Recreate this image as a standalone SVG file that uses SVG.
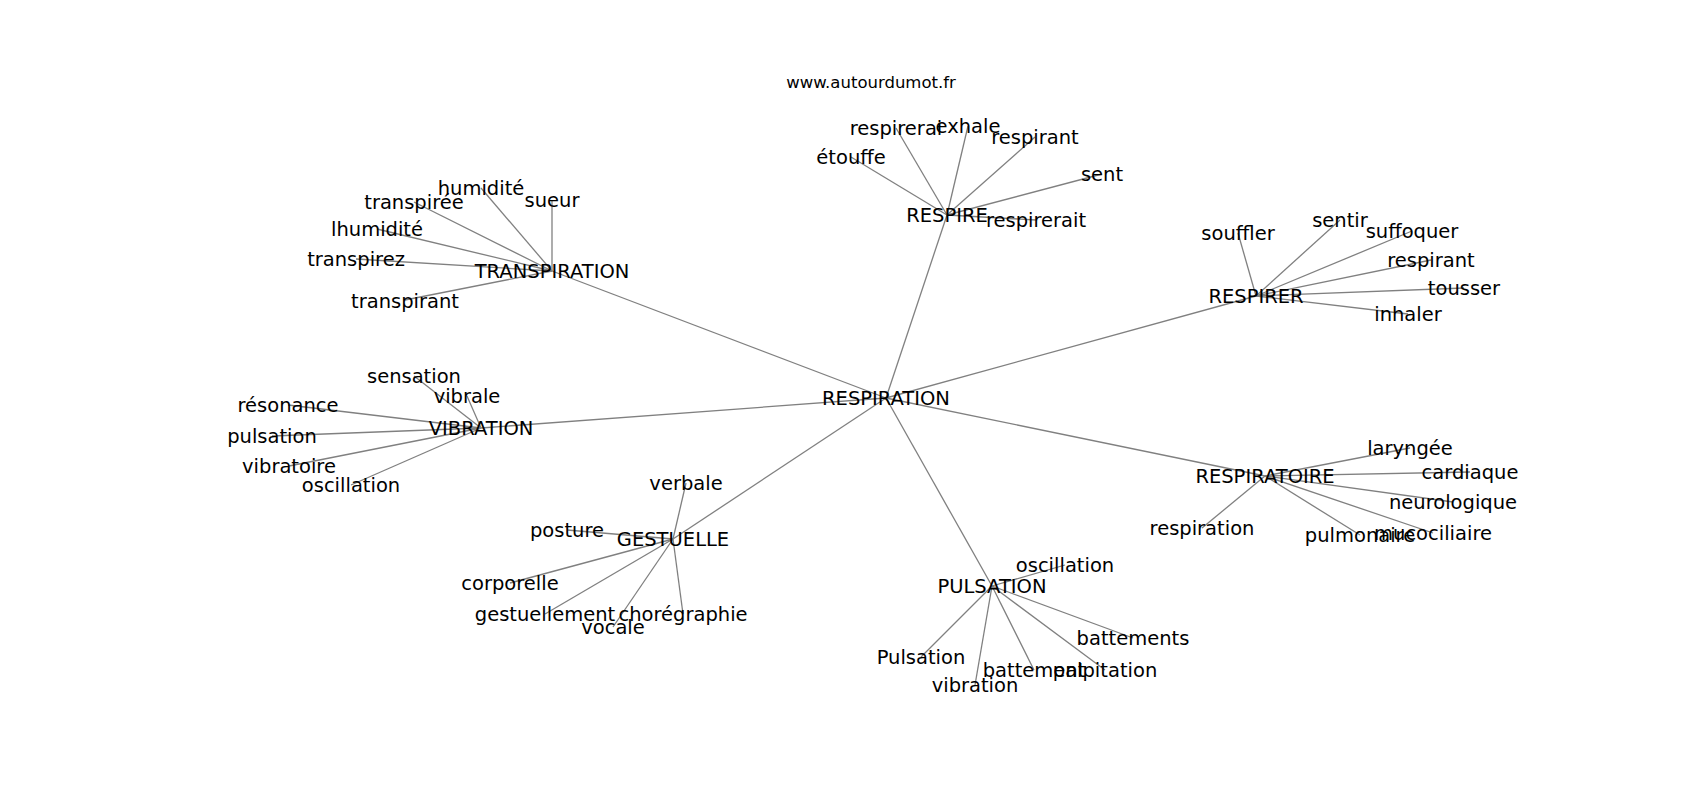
<svg xmlns="http://www.w3.org/2000/svg" width="1700" height="800" viewBox="0 0 1700 800">
<style>
.e{stroke:#808080;stroke-width:1.3;fill:none}
.t{font-family:"DejaVu Sans",sans-serif;font-size:19.5px;fill:#000;text-anchor:middle}
.title{font-family:"DejaVu Sans",sans-serif;font-size:16.5px;fill:#000;text-anchor:middle}
</style>
<rect width="1700" height="800" fill="#fff"/>
<text class="title" x="871" y="88">www.autourdumot.fr</text>
<g id="edges" class="e">
<line x1="886" y1="398" x2="552" y2="271"/>
<line x1="886" y1="398" x2="947" y2="215"/>
<line x1="886" y1="398" x2="1256" y2="296"/>
<line x1="886" y1="398" x2="481" y2="428"/>
<line x1="886" y1="398" x2="1265" y2="476"/>
<line x1="886" y1="398" x2="673" y2="539"/>
<line x1="886" y1="398" x2="992" y2="586"/>
<line x1="552" y1="271" x2="481" y2="188"/>
<line x1="552" y1="271" x2="552" y2="200"/>
<line x1="552" y1="271" x2="414" y2="202"/>
<line x1="552" y1="271" x2="377" y2="229"/>
<line x1="552" y1="271" x2="356" y2="259"/>
<line x1="552" y1="271" x2="405" y2="300"/>
<line x1="947" y1="215" x2="851" y2="157"/>
<line x1="947" y1="215" x2="896" y2="128"/>
<line x1="947" y1="215" x2="968" y2="126"/>
<line x1="947" y1="215" x2="1035" y2="137"/>
<line x1="947" y1="215" x2="1102" y2="174"/>
<line x1="947" y1="215" x2="1036" y2="220"/>
<line x1="1256" y1="296" x2="1238" y2="233"/>
<line x1="1256" y1="296" x2="1340" y2="220"/>
<line x1="1256" y1="296" x2="1412" y2="231"/>
<line x1="1256" y1="296" x2="1431" y2="260"/>
<line x1="1256" y1="296" x2="1464" y2="288"/>
<line x1="1256" y1="296" x2="1408" y2="314"/>
<line x1="1265" y1="476" x2="1410" y2="448"/>
<line x1="1265" y1="476" x2="1470" y2="472"/>
<line x1="1265" y1="476" x2="1453" y2="502"/>
<line x1="1265" y1="476" x2="1202" y2="528"/>
<line x1="1265" y1="476" x2="1360" y2="535"/>
<line x1="1265" y1="476" x2="1433" y2="533"/>
<line x1="481" y1="428" x2="414" y2="376"/>
<line x1="481" y1="428" x2="467" y2="396"/>
<line x1="481" y1="428" x2="288" y2="405"/>
<line x1="481" y1="428" x2="272" y2="436"/>
<line x1="481" y1="428" x2="289" y2="466"/>
<line x1="481" y1="428" x2="351" y2="485"/>
<line x1="673" y1="539" x2="686" y2="483"/>
<line x1="673" y1="539" x2="567" y2="530"/>
<line x1="673" y1="539" x2="510" y2="583"/>
<line x1="673" y1="539" x2="545" y2="614"/>
<line x1="673" y1="539" x2="683" y2="614"/>
<line x1="673" y1="539" x2="613" y2="627"/>
<line x1="992" y1="586" x2="1065" y2="565"/>
<line x1="992" y1="586" x2="1133" y2="638"/>
<line x1="992" y1="586" x2="921" y2="657"/>
<line x1="992" y1="586" x2="975" y2="685"/>
<line x1="992" y1="586" x2="1034" y2="670"/>
<line x1="992" y1="586" x2="1105" y2="670"/>
</g>
<g id="n-respiration"><text class="t" x="886" y="405">RESPIRATION</text></g>
<g id="n-transpiration"><text class="t" x="552" y="278">TRANSPIRATION</text></g>
<g id="n-humidite"><text class="t" x="481" y="195">humidité</text></g>
<g id="n-sueur"><text class="t" x="552" y="207">sueur</text></g>
<g id="n-transpiree"><text class="t" x="414" y="209">transpirée</text></g>
<g id="n-lhumidite"><text class="t" x="377" y="236">lhumidité</text></g>
<g id="n-transpirez"><text class="t" x="356" y="266">transpirez</text></g>
<g id="n-transpirant"><text class="t" x="405" y="308">transpirant</text></g>
<g id="n-respire"><text class="t" x="947" y="222">RESPIRE</text></g>
<g id="n-etouffe"><text class="t" x="851" y="164">étouffe</text></g>
<g id="n-respirerai"><text class="t" x="896" y="135">respirerai</text></g>
<g id="n-exhale"><text class="t" x="968" y="133">exhale</text></g>
<g id="n-respirant1"><text class="t" x="1035" y="144">respirant</text></g>
<g id="n-sent"><text class="t" x="1102" y="181">sent</text></g>
<g id="n-respirerait"><text class="t" x="1036" y="227">respirerait</text></g>
<g id="n-respirer"><text class="t" x="1256" y="303">RESPIRER</text></g>
<g id="n-souffler"><text class="t" x="1238" y="240">souffler</text></g>
<g id="n-sentir"><text class="t" x="1340" y="227">sentir</text></g>
<g id="n-suffoquer"><text class="t" x="1412" y="238">suffoquer</text></g>
<g id="n-respirant2"><text class="t" x="1431" y="267">respirant</text></g>
<g id="n-tousser"><text class="t" x="1464" y="295">tousser</text></g>
<g id="n-inhaler"><text class="t" x="1408" y="321">inhaler</text></g>
<g id="n-respiratoire"><text class="t" x="1265" y="483">RESPIRATOIRE</text></g>
<g id="n-laryngee"><text class="t" x="1410" y="455">laryngée</text></g>
<g id="n-cardiaque"><text class="t" x="1470" y="479">cardiaque</text></g>
<g id="n-neurologique"><text class="t" x="1453" y="509">neurologique</text></g>
<g id="n-respiration2"><text class="t" x="1202" y="535">respiration</text></g>
<g id="n-pulmonaire"><text class="t" x="1360" y="542">pulmonaire</text></g>
<g id="n-mucociliaire"><text class="t" x="1433" y="540">mucociliaire</text></g>
<g id="n-vibration"><text class="t" x="481" y="435">VIBRATION</text></g>
<g id="n-sensation"><text class="t" x="414" y="383">sensation</text></g>
<g id="n-vibrale"><text class="t" x="467" y="403">vibrale</text></g>
<g id="n-resonance"><text class="t" x="288" y="412">résonance</text></g>
<g id="n-pulsation"><text class="t" x="272" y="443">pulsation</text></g>
<g id="n-vibratoire"><text class="t" x="289" y="473">vibratoire</text></g>
<g id="n-oscillation1"><text class="t" x="351" y="492">oscillation</text></g>
<g id="n-gestuelle"><text class="t" x="673" y="546">GESTUELLE</text></g>
<g id="n-verbale"><text class="t" x="686" y="490">verbale</text></g>
<g id="n-posture"><text class="t" x="567" y="537">posture</text></g>
<g id="n-corporelle"><text class="t" x="510" y="590">corporelle</text></g>
<g id="n-gestuellement"><text class="t" x="545" y="621">gestuellement</text></g>
<g id="n-choregraphie"><text class="t" x="683" y="621">chorégraphie</text></g>
<g id="n-vocale"><text class="t" x="613" y="634">vocale</text></g>
<g id="n-pulsation-hub"><text class="t" x="992" y="593">PULSATION</text></g>
<g id="n-oscillation2"><text class="t" x="1065" y="572">oscillation</text></g>
<g id="n-battements"><text class="t" x="1133" y="645">battements</text></g>
<g id="n-pulsation2"><text class="t" x="921" y="664">Pulsation</text></g>
<g id="n-vibration2"><text class="t" x="975" y="692">vibration</text></g>
<g id="n-battement"><text class="t" x="1034" y="677">battement</text></g>
<g id="n-palpitation"><text class="t" x="1105" y="677">palpitation</text></g>
</svg>
